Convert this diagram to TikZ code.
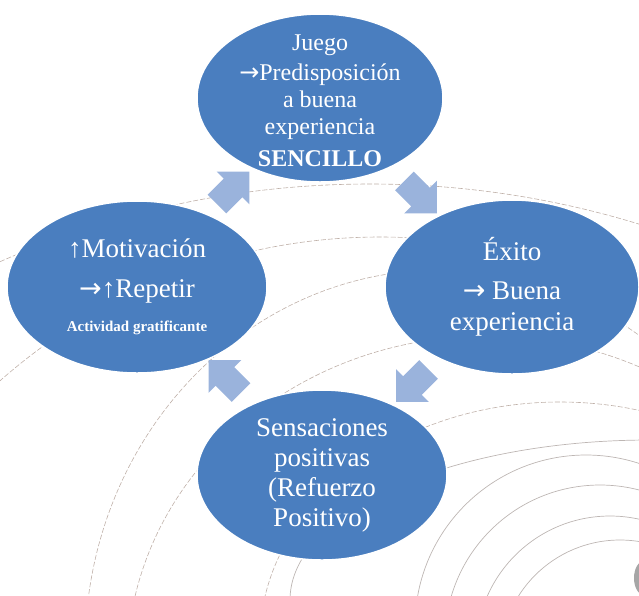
\documentclass[tikz,border=0pt]{standalone}
\usepackage{fontspec}
\setmainfont{Liberation Serif}
\newfontfamily\arrowfont{DejaVu Sans}
\newcommand{\rarr}{{\arrowfont →}}
\usetikzlibrary{shapes,arrows,positioning,calc}

\definecolor{blobblue}{HTML}{4A7EBF}
\definecolor{arrowblue}{HTML}{9AB3DC}
\definecolor{ripplebrown}{HTML}{BFB0A8}
\definecolor{ripplegray}{HTML}{BDB6B3}

\tikzset{
  blob/.style={ellipse, fill=blobblue, draw=white, line width=1.5pt, inner sep=0pt},
  blobtext/.style={text=white, align=center, inner sep=0pt},
  cyc/.style={single arrow, fill=arrowblue, inner xsep=0pt, inner ysep=13pt,
    minimum height=46pt, single arrow head extend=10pt},
  ripple/.style={ripplebrown, line width=0.6pt, dash pattern=on 5pt off 2pt},
  wave/.style={ripplegray, line width=0.7pt}
}

\begin{document}
\begin{tikzpicture}[x=1pt,y=-1pt]
  \useasboundingbox (0,0) rectangle (639,595);

  %ripples
  \begin{scope}
    \clip (0,0) rectangle (639,595);
    \draw[ripple] (370,1101) circle [radius=917];
    \draw[ripple] (380,811) circle [radius=574];
    \draw[ripple] (440,650) ellipse [x radius=355, y radius=380];
    \draw[ripple] (487,666) ellipse [x radius=360, y radius=330];
    \draw[ripple] (560,640) ellipse [x radius=300, y radius=238];
    \draw[wave] (650,600) ellipse [x radius=360, y radius=160];
    \draw[wave] (586,626) circle [radius=171];
    \draw[wave] (600,640) circle [radius=155];
    \draw[wave] (610,650) circle [radius=134];
    \draw[wave] (620,660) circle [radius=120];
    \fill[gray!70] (644,578) ellipse [x radius=10, y radius=17];
  \end{scope}

  %cycle
  \node[blob, minimum width=246pt, minimum height=168pt] (juego) at (320,98) {};
  \node[blob, minimum width=260pt, minimum height=172pt] (motiv) at (137,287) {};
  \node[blob, minimum width=254pt, minimum height=174pt] (exito) at (512,287) {};
  \node[blob, minimum width=250pt, minimum height=170pt] (sens) at (322,475) {};

  \node[cyc, rotate=-45] (juegoexito) at ($(juego)!.5!(exito)$) {};
  \node[cyc, rotate=-135] (exitosens) at ($(exito)!.5!(sens)$) {};
  \node[cyc, rotate=135] (sensmotiv) at ($(sens)!.5!(motiv)$) {};
  \node[cyc, rotate=45] (motivjuego) at ($(motiv)!.5!(juego)$) {};

  \node[blobtext, font=\fontsize{24}{27}\selectfont] (juegotxt) at ([yshift=-3pt]juego)
    {Juego\\[3pt]\rarr Predisposición\\a buena\\experiencia\\[5pt]\textbf{SENCILLO}};
  \node[blobtext, font=\fontsize{27}{32}\selectfont] (motivtxt) at (motiv)
    {↑Motivación\\[8pt]\rarr↑Repetir\\[2pt]{\fontsize{15}{17}\selectfont\bfseries Actividad gratificante}};
  \node[blobtext, font=\fontsize{27}{31}\selectfont] (exitotxt) at (exito)
    {Éxito\\[8pt]\rarr\ Buena\\experiencia};
  \node[blobtext, font=\fontsize{27}{30}\selectfont] (senstxt) at (sens)
    {Sensaciones\\positivas\\(Refuerzo\\Positivo)};
\end{tikzpicture}
\end{document}
